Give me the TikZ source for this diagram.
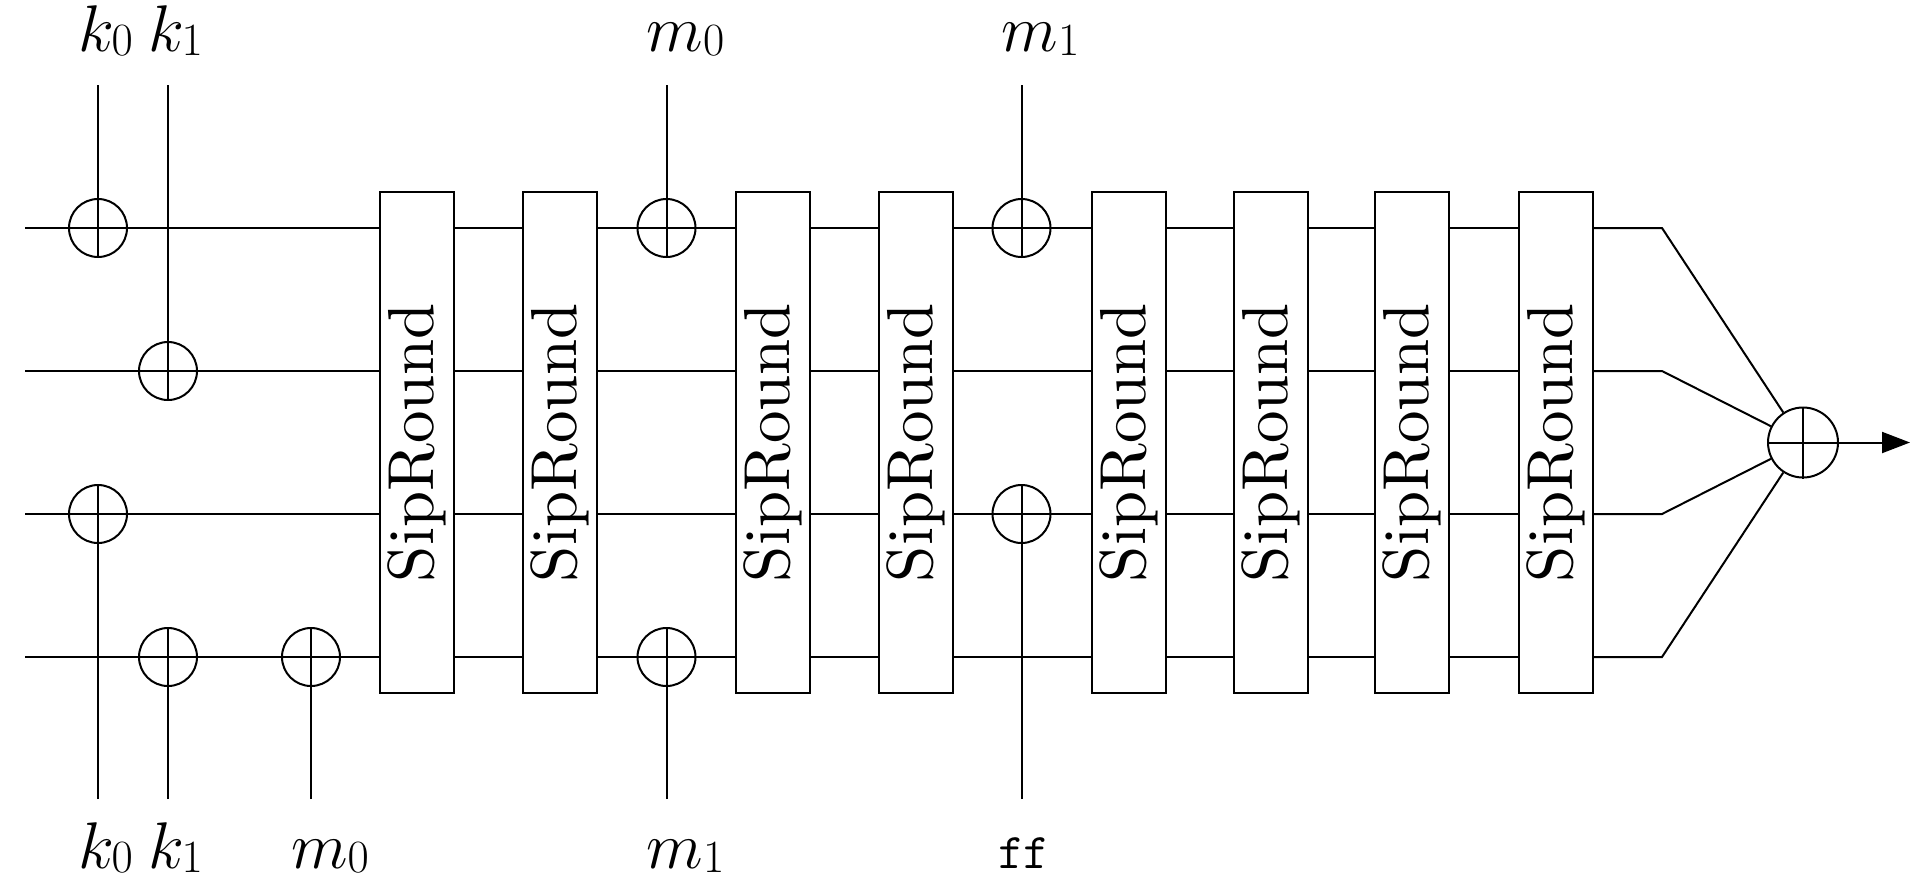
\RequirePackage{fix-cm}
\documentclass[tikz,border=0pt]{standalone}
\usepackage{fontspec}
\newfontfamily\sipfont{lmroman10-regular.otf}
\newcommand{\lsub}[1]{_{\raisebox{2.5pt}[0pt][0pt]{$\scriptstyle #1$}}}
\usetikzlibrary{arrows.meta}
\begin{document}
\begin{tikzpicture}[x=0.5pt,y=-0.5pt,line width=1pt,
  sipbox/.style={draw,rectangle,minimum width=37pt,minimum height=250.5pt,inner sep=0pt},
  siptext/.style={rotate=90,inner sep=0pt,font=\sipfont\fontsize{32.5}{39}\selectfont},
  xorc/.style={draw,circle,minimum size=29pt,inner sep=0pt},
  bigxor/.style={draw,circle,minimum size=35pt,inner sep=0pt},
  lbl/.style={anchor=base west,inner sep=0pt,font=\fontsize{33}{40}\selectfont},
  ttlbl/.style={anchor=base west,inner sep=0pt,font=\fontsize{25}{30}\selectfont\ttfamily}]
\useasboundingbox (0,0) rectangle (1911,879);

% lanes
\coordinate (s0) at (25,228);
\coordinate (s1) at (25,371);
\coordinate (s2) at (25,514);
\coordinate (s3) at (25,657);

% SipRound boxes
\foreach \i/\cx in {1/417,2/560,3/773,4/915.5,5/1128.5,6/1271,7/1411.5,8/1555.5}{
  \node[sipbox] (b\i) at (\cx,442.5) {};
  \node[siptext] (r\i) at (b\i.center) {SipRound};
}

% XOR circles
\node[xorc] (ka) at (98,228) {};
\node[xorc] (kb) at (168,371) {};
\node[xorc] (kc) at (98,514) {};
\node[xorc] (kd) at (168,657) {};
\node[xorc] (ke) at (311,657) {};
\node[xorc] (ma) at (666.5,228) {};
\node[xorc] (mb) at (666.5,657) {};
\node[xorc] (mc) at (1021.5,228) {};
\node[xorc] (md) at (1021.5,514) {};

% lane segments
\foreach \l in {0,1,2,3}{
  \draw (s\l) -- (b1.west |- s\l);
  \draw (b1.east |- s\l) -- (b2.west |- s\l);
  \draw (b2.east |- s\l) -- (b3.west |- s\l);
  \draw (b3.east |- s\l) -- (b4.west |- s\l);
  \draw (b4.east |- s\l) -- (b5.west |- s\l);
  \draw (b5.east |- s\l) -- (b6.west |- s\l);
  \draw (b6.east |- s\l) -- (b7.west |- s\l);
  \draw (b7.east |- s\l) -- (b8.west |- s\l);
}

% top inputs
\coordinate (tka) at (98,85);
\coordinate (tkb) at (168,85);
\coordinate (tma) at (666.5,85);
\coordinate (tmc) at (1021.5,85);
\draw (tka) -- (ka.south);
\draw (tkb) -- (kb.south);
\draw (tma) -- (ma.south);
\draw (tmc) -- (mc.south);
\node[lbl] (lka) at (77,51) {$k\lsub{0}$};
\node[lbl] (lkb) at (147,51) {$k\lsub{1}$};
\node[lbl] (lma) at (645.5,51) {$m\lsub{0}$};
\node[lbl] (lmc) at (1000.5,51) {$m\lsub{1}$};

% bottom inputs
\coordinate (bkc) at (98,799);
\coordinate (bkd) at (168,799);
\coordinate (bke) at (311,799);
\coordinate (bmb) at (666.5,799);
\coordinate (bmd) at (1021.5,799);
\draw (bkc) -- (kc.north);
\draw (bkd) -- (kd.north);
\draw (bke) -- (ke.north);
\draw (bmb) -- (mb.north);
\draw (bmd) -- (md.north);
\node[lbl] (lkc) at (77,868) {$k\lsub{0}$};
\node[lbl] (lkd) at (147,868) {$k\lsub{1}$};
\node[lbl] (lke) at (290,868) {$m\lsub{0}$};
\node[lbl] (lmb) at (645.5,868) {$m\lsub{1}$};
\node[ttlbl] (lmd) at (997,868) {ff};

% final combination
\node[bigxor] (fx) at (1803,442.5) {};
\draw (fx.north) -- (fx.south);
\draw (fx.west) -- (fx.east);
\foreach \l in {0,1,2,3}{
  \coordinate (e\l) at (1662,0 |- s\l);
  \draw (b8.east |- s\l) -- (e\l) -- (fx);
}
\coordinate (out) at (1910,442.5);
\draw[-{Triangle[length=14pt,width=10.5pt]}] (fx.east) -- (out);
\end{tikzpicture}
\end{document}
